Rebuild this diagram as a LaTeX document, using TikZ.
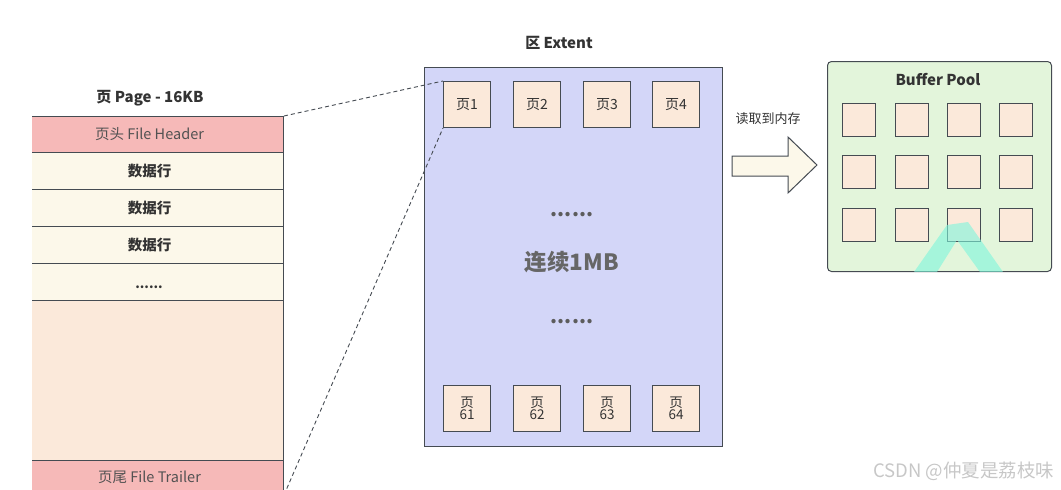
\documentclass[tikz,border=0pt]{standalone}
\usepackage{fontspec}
\setmainfont{Noto Sans CJK SC}
\usetikzlibrary{positioning}
\definecolor{strk}{HTML}{454B52}
\definecolor{hdr}{HTML}{F6B9B8}
\definecolor{rowc}{HTML}{FCF8EA}
\definecolor{pagec}{HTML}{FBE9DA}
\definecolor{extc}{HTML}{D3D6F8}
\definecolor{bpc}{HTML}{E3F5DB}
\definecolor{txt}{HTML}{333333}
\definecolor{arrowc}{HTML}{FCF8EA}
\definecolor{wmc}{HTML}{7DF5DC}
\tikzset{
  box/.style={draw=strk, line width=1pt, inner sep=0pt, anchor=north west, text=txt},
  row/.style={box, minimum width=268pt, minimum height=37pt},
  pg/.style={box, fill=pagec, minimum width=47pt, minimum height=46pt, font=\fontsize{14}{14}\selectfont, align=center},
  bpcell/.style={box, fill=pagec, minimum width=33pt, minimum height=33pt},
  ttl/.style={font=\bfseries\fontsize{15}{17}\selectfont, text=txt},
  rowtxt/.style={font=\bfseries\fontsize{14.5}{16}\selectfont},
  dashline/.style={draw=strk, dashed, line width=0.9pt, dash pattern=on 4pt off 3pt},
}
\begin{document}
\begin{tikzpicture}[x=1pt,y=-1pt]
\useasboundingbox (0,0) rectangle (1061,490);
% ---------- Page ----------
\node[ttl] (ptitle) at (150,98) {页 Page - 16KB};
\begin{scope}
\clip (32,0) rectangle (1061,490);
\node[row, fill=hdr, minimum height=36pt, text=txt!85, font=\fontsize{14.5}{16}\selectfont] (hdr) at (15,116) {页头 File Header};
\node[row, fill=rowc, rowtxt] (r1) at (15,152) {数据行};
\node[row, fill=rowc, rowtxt] (r2) at (15,189) {数据行};
\node[row, fill=rowc, rowtxt] (r3) at (15,226) {数据行};
\node[row, fill=rowc, rowtxt] (r4) at (15,263) {};
\node[row, fill=pagec, minimum height=160pt] (body) at (15,300) {};
\node[row, fill=hdr, minimum height=34pt, text=txt!85, font=\fontsize{14.5}{16}\selectfont] (trl) at (15,460) {页尾 File Trailer};
\end{scope}
\node[anchor=base, text=txt, font=\bfseries\fontsize{13}{13}\selectfont] (r4t) at (149,288) {......};
% ---------- Extent ----------
\node[ttl] (etitle) at (559,43) {区 Extent};
\node[box, fill=extc, minimum width=298pt, minimum height=379pt] (ext) at (424,67) {};
\node[pg] (p1) at (443,81) {页1};
\node[pg] (p2) at (513,81) {页2};
\node[pg] (p3) at (583,81) {页3};
\node[pg] (p4) at (652,81) {页4};
\node[pg, font=\fontsize{13.5}{13}\selectfont] (p61) at (443,385) {页\\[-1pt]61};
\node[pg, font=\fontsize{13.5}{13}\selectfont] (p62) at (513,385) {页\\[-1pt]62};
\node[pg, font=\fontsize{13.5}{13}\selectfont] (p63) at (583,385) {页\\[-1pt]63};
\node[pg, font=\fontsize{13.5}{13}\selectfont] (p64) at (652,385) {页\\[-1pt]64};
\node[anchor=base, text=txt!80, font=\bfseries\fontsize{20}{20}\selectfont] (dots1) at (572,216) {......};
\node[text=txt!75, font=\bfseries\fontsize{22.5}{24}\selectfont] (mb) at (572,262) {连续1MB};
\node[anchor=base, text=txt!80, font=\bfseries\fontsize{20}{20}\selectfont] (dots2) at (572,323) {......};
\draw[dashline] (hdr.north east) -- (p1.north west);
\draw[dashline] (trl.south east) -- (p1.south west);
% ---------- Arrow ----------
\node[text=txt, font=\fontsize{13}{15}\selectfont] (lbl) at (768,119) {读取到内存};
\draw[draw=strk, line width=1pt, fill=arrowc, line join=miter]
  (732,156) -- (788,156) -- (788,137) -- (817,165) -- (788,193) -- (788,176) -- (732,176) -- cycle;
% ---------- Buffer Pool ----------
\node[box, fill=bpc, rounded corners=4pt, minimum width=224pt, minimum height=210pt] (bp) at (827,61) {};
\node[ttl] (btitle) at (938,80) {Buffer Pool};
\foreach \c/\x in {1/842,2/895,3/947,4/999}{
  \foreach \r/\y in {1/103,2/155,3/208}{
    \node[bpcell] (b\r\c) at (\x,\y) {};
  }
}
% watermark marks
\begin{scope}
\clip (900,200) rectangle (1010,271);
\fill[wmc, opacity=0.6] (914,272) -- (947,225) -- (968,222) -- (1003,272) -- (980,272) -- (957,240) -- (937,272) -- cycle;
\end{scope}
\node[text=black!22, font=\fontsize{18.5}{20}\selectfont, anchor=east] (wm) at (1058,471) {CSDN @仲夏是荔枝味};
\end{tikzpicture}
\end{document}
